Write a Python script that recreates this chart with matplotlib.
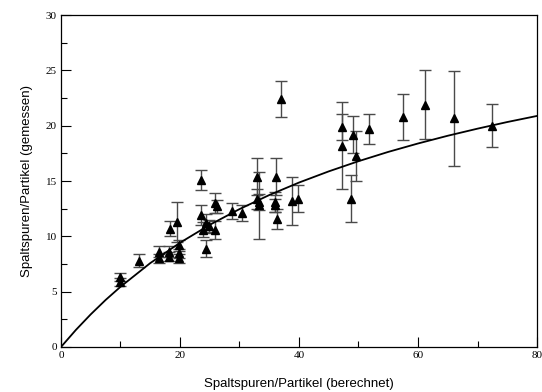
import matplotlib.pyplot as plt
from matplotlib.ticker import MultipleLocator

# measured points: calculated (x), measured (y), error
x_calc = [9.9, 10.0, 13.1, 16.4, 16.4, 18.2, 18.2, 18.3, 19.5, 19.8, 19.8, 19.8,
          23.6, 23.6, 23.8, 24.4, 24.4, 24.8, 25.9, 26.2, 25.9, 28.7, 30.5,
          32.9, 32.9, 33.2, 33.2, 36.1, 36.0, 36.0, 36.3, 37.0, 38.9, 39.8,
          47.2, 47.2, 48.7, 49.1, 49.5, 51.8, 57.4, 61.1, 66.1, 72.5]
y_meas = [6.3, 5.9, 7.8, 8.6, 8.0, 8.6, 8.15, 10.7, 11.3, 9.2, 8.45, 8.0,
          15.1, 11.9, 10.6, 11.2, 8.9, 10.9, 13.0, 12.7, 10.6, 12.3, 12.1,
          15.4, 13.4, 13.1, 12.8, 15.4, 13.1, 12.8, 11.6, 22.4, 13.2, 13.4,
          19.9, 18.2, 13.4, 19.2, 17.25, 19.7, 20.8, 21.9, 20.65, 20.0]
y_err = [0.35, 0.35, 0.6, 0.5, 0.4, 0.5, 0.4, 0.7, 1.8, 0.5, 0.4, 0.4,
         0.9, 0.9, 0.7, 0.8, 0.75, 0.6, 0.9, 0.6, 0.8, 0.75, 0.7,
         1.7, 0.9, 0.7, 3.0, 1.7, 0.9, 0.6, 0.9, 1.6, 2.2, 1.2,
         1.2, 3.9, 2.1, 1.7, 2.25, 1.35, 2.1, 3.1, 4.25, 1.95]

# fitted curve
fit_x = [0, 2.5, 5, 7.5, 10, 15, 20, 25, 30, 35, 40, 45, 50, 55, 60, 65, 70, 75, 80]
fit_y = [0, 1.54, 2.95, 4.25, 5.44, 7.58, 9.42, 11.04, 12.46, 13.73, 14.86,
         15.87, 16.79, 17.63, 18.39, 19.09, 19.73, 20.33, 20.88]

fig = plt.figure(figsize=(5.42, 3.92), dpi=100)
ax = fig.add_axes([0.1125, 0.1148, 0.8783, 0.8469])

ax.errorbar(x_calc, y_meas, yerr=y_err, fmt='none', ecolor='#4a4a4a',
            elinewidth=1.0, capsize=4, capthick=1.0, zorder=2)
ax.plot(x_calc, y_meas, '^', color='black', markersize=6, zorder=3)
ax.plot(fit_x, fit_y, color='black', linewidth=1.3, zorder=4)

ax.set_xlim(0, 80)
ax.set_ylim(0, 30)
ax.xaxis.set_major_locator(MultipleLocator(20))
ax.xaxis.set_minor_locator(MultipleLocator(10))
ax.yaxis.set_major_locator(MultipleLocator(5))
ax.yaxis.set_minor_locator(MultipleLocator(2.5))
ax.tick_params(which='both', direction='in', top=False, right=False, width=0.8)
ax.tick_params(which='major', length=7, pad=3)
ax.tick_params(which='minor', length=4)
for lab in ax.get_xticklabels() + ax.get_yticklabels():
    lab.set_fontfamily('Liberation Serif')
    lab.set_fontsize(8)
for sp in ax.spines.values():
    sp.set_linewidth(0.9)

ax.set_xlabel('Spaltspuren/Partikel (berechnet)', family='Liberation Sans',
              fontsize=9.5, labelpad=13)
ax.set_ylabel('Spaltspuren/Partikel (gemessen)', family='Liberation Sans',
              fontsize=9.5, labelpad=9)

fig.savefig('out.png', dpi=100)
